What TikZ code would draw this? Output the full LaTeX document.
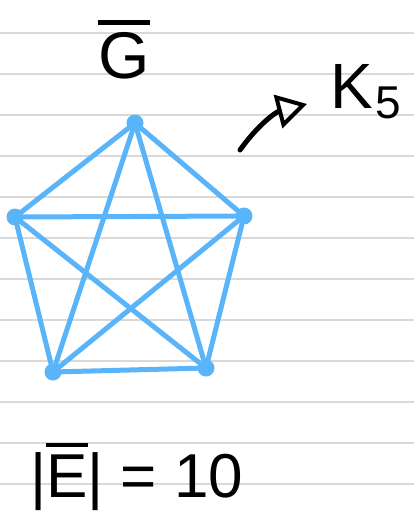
\documentclass[tikz,border=0pt]{standalone}
\usepackage{fontspec}
\setsansfont{Liberation Sans}
\usetikzlibrary{arrows.meta}

\definecolor{penBlue}{HTML}{5AB4FA}
% thick pen bar drawn above a letter
\newcommand{\penBar}[1]{\vbox{\hrule height 4.5pt\kern 7pt\hbox{#1}}}

\begin{document}
\begin{tikzpicture}[
    x=1pt,
    y=-1pt,
    ruleLine/.style={draw=black!15, line width=1.3pt},
    edgeLine/.style={draw=penBlue, line width=5pt, line cap=round},
    vertexDot/.style={circle, fill=penBlue, inner sep=0pt, minimum size=17pt},
    penText/.style={font=\fontsize{64}{64}\sffamily, inner sep=0pt},
    penArrow/.style={draw=black, line width=5pt, line cap=round,
        -{Triangle[open, length=30pt, width=34pt, line width=4pt]}}
]
\path[use as bounding box] (0,0) rectangle (414,519);

% Ruled note paper.
\foreach \y in {33,74,...,484} {
    \draw[ruleLine] (0,\y) -- (414,\y);
}

% Vertices of the complete graph on five vertices.
\node[vertexDot] (top)   at (135,123) {};
\node[vertexDot] (left)  at (15,217)  {};
\node[vertexDot] (right) at (244,216) {};
\node[vertexDot] (botL)  at (53,372)  {};
\node[vertexDot] (botR)  at (206,368) {};

\foreach \a/\b in {top/left,top/right,top/botL,top/botR,left/right,left/botL,left/botR,right/botL,right/botR,botL/botR} {
    \draw[edgeLine] (\a) -- (\b);
}

% Labels.
\node[penText, font=\fontsize{66}{66}\sffamily, anchor=base] (gBar)
    at (124,78) {\penBar{G}};
\node[penText, anchor=base west] (kFive) at (330,108)
    {K\kern3pt\raisebox{-10pt}{\fontsize{46}{46}\selectfont 5}};
\node[penText, font=\fontsize{62}{62}\sffamily, anchor=base west]
    (edgeCount) at (30,497) {|\penBar{E}| = 10};

% Arrow towards the K5 label.
\coordinate (arrowTail) at (240,150);
\coordinate (arrowTip) at (307,104);
\draw[penArrow] (arrowTail) to[bend left=20] (arrowTip);
\end{tikzpicture}
\end{document}
